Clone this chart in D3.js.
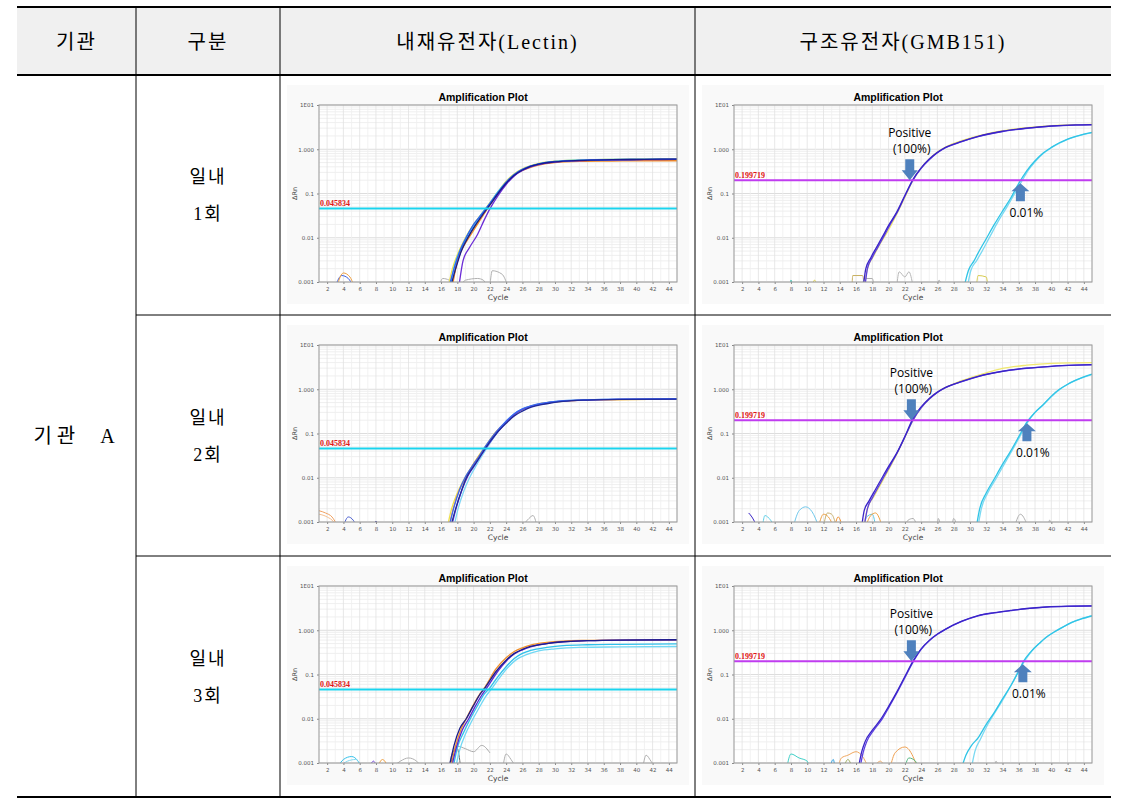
<!DOCTYPE html>
<html>
<head>
<meta charset="utf-8">
<script src="https://cdn.jsdelivr.net/npm/d3@7"></script>
<style>
body { margin: 0; background: #fff; }
svg { display: block; }
</style>
</head>
<body>
<svg></svg>
<script>
// table text
let headers = ['기관', '구분', '내재유전자(Lectin)', '구조유전자(GMB151)']
let orgLabel = '기관  A'
let runLabels = [['일내', '1회'], ['일내', '2회'], ['일내', '3회']]

// axis ticks of the amplification plots
let xTicks = [2, 4, 6, 8, 10, 12, 14, 16, 18, 20, 22, 24, 26, 28, 30, 32, 34, 36, 38, 40, 42, 44]
let yTicks = [0.001, 0.01, 0.1, 1, 10]
let yTickLabels = ['0.001', '0.01', '0.1', '1.000', '1E01']

let lectinThreshold = 0.045834
let gmbThreshold = 0.199719
let thresholdLabels = ['0.045834', '0.199719']

// cycles the arrows point at (GMB151 plots)
let positiveCt = [22.6, 22.8, 22.8]
let lowCt = [36.2, 37.0, 36.5]

// ---- Lectin, run 1 ----
let lectinRun1 = [
  [[16.9,0.0008],[17.4,0.002],[18.2,0.005],[19,0.01],[20,0.02],[21,0.035],[22,0.062],[23,0.11],[24,0.19],[25,0.28],[26,0.36],[28,0.48],[30,0.54],[33,0.57],[37,0.59],[45,0.61]],
  [[17.3,0.0008],[17.9,0.0025],[18.6,0.006],[19.4,0.011],[20.3,0.02],[21.2,0.034],[22,0.056],[23,0.1],[24,0.17],[25,0.26],[26,0.34],[28,0.46],[30,0.52],[33,0.55],[37,0.57],[45,0.58]],
  [[17.4,0.0008],[18,0.003],[18.8,0.0065],[19.7,0.012],[20.6,0.022],[21.5,0.04],[22.5,0.075],[23.5,0.13],[24.5,0.22],[25.5,0.3],[27,0.39],[28,0.44],[30,0.5],[33,0.53],[37,0.54],[41,0.55],[45,0.55]],
  [[17.1,0.0008],[17.7,0.0025],[18.5,0.006],[19.3,0.012],[20.2,0.021],[21,0.035],[22,0.06],[23,0.11],[24,0.18],[25,0.27],[26,0.35],[28,0.47],[30,0.53],[33,0.57],[37,0.59],[45,0.6]],
  [[18.2,0.0008],[18.7,0.003],[19.5,0.006],[20.5,0.012],[21.3,0.025],[22,0.045],[23,0.09],[24,0.16],[25,0.25],[26,0.33],[27,0.4],[28,0.45],[30,0.51],[33,0.55],[37,0.57],[41,0.58],[45,0.59]],
  [[17.0,0.0008],[17.6,0.002],[18.4,0.0055],[19.2,0.011],[20,0.02],[21,0.034],[22,0.06],[23,0.105],[24,0.18],[25,0.27],[26,0.35],[27,0.42],[28,0.47],[30,0.53],[33,0.56],[37,0.58],[41,0.59],[45,0.6]],
  [[17.2,0.0008],[17.8,0.002],[18.5,0.005],[19.3,0.01],[20.2,0.019],[21,0.031],[22,0.055],[23,0.1],[24,0.17],[25,0.26],[26,0.34],[27,0.41],[28,0.46],[30,0.52],[33,0.56],[37,0.58],[41,0.59],[45,0.6]]
]
let lectinColors1 = ['#efe04a', '#2aa37a', '#f08a24', '#38c8f0', '#6b2bd6', '#3060f0', '#1a1a8c']
let lectinNoise1 = [
  [[3,0.0008],[3.8,0.0014],[4.6,0.0012],[5.2,0.0008]],
  [[3.2,0.0008],[4,0.0016],[4.8,0.0013],[5.3,0.0008]],
  [[15.8,0.0008],[16.2,0.0012],[17,0.0011],[17.5,0.0008]],
  [[18.4,0.0008],[19,0.0011],[20.5,0.0012],[21.2,0.0011],[21.6,0.0008]],
  [[22,0.0008],[22.3,0.0018],[23.5,0.0015],[24.2,0.0008]]
]
let lectinNoiseColors1 = ['#3a5ee0', '#f0a040', '#b0b0b0', '#b0b0b0', '#b0b0b0']

// ---- Lectin, run 2 ----
let lectinRun2 = [
  [[16.8,0.0008],[17.3,0.002],[18,0.0045],[18.8,0.009],[19.7,0.017],[20.5,0.029],[21.3,0.047],[22.5,0.095],[24,0.18],[25,0.27],[26,0.35],[28,0.46],[30,0.52],[34,0.57],[45,0.6]],
  [[17,0.0008],[17.5,0.002],[18.2,0.005],[19,0.0095],[19.8,0.018],[20.6,0.03],[21.4,0.047],[22.6,0.1],[24,0.18],[26,0.35],[28,0.46],[30,0.52],[34,0.57],[45,0.6]],
  [[17.6,0.0008],[18.1,0.002],[18.8,0.005],[19.5,0.01],[20.4,0.02],[21.2,0.035],[22,0.06],[23,0.11],[24,0.19],[25,0.28],[26,0.36],[28,0.46],[30,0.53],[33,0.57],[38,0.59],[45,0.6]],
  [[17.3,0.0008],[17.9,0.0022],[18.6,0.0055],[19.3,0.011],[20.2,0.02],[21,0.034],[21.7,0.052],[23,0.11],[24,0.18],[25,0.27],[26,0.35],[28,0.45],[30,0.52],[33,0.56],[38,0.59],[45,0.6]],
  [[17.0,0.0008],[17.6,0.0022],[18.3,0.0055],[19,0.0105],[19.9,0.019],[20.7,0.031],[21.4,0.05],[22.7,0.105],[24,0.19],[25,0.28],[26,0.36],[27,0.42],[29,0.5],[31,0.55],[34,0.58],[38,0.6],[45,0.61]],
  [[17.2,0.0008],[17.8,0.002],[18.5,0.005],[19.1,0.0098],[20,0.018],[20.8,0.03],[21.5,0.048],[22.8,0.1],[24,0.17],[25,0.25],[26,0.32],[27,0.39],[29,0.47],[31,0.53],[34,0.57],[38,0.59],[45,0.6]]
]
let lectinColors2 = ['#efe04a', '#f0a050', '#7fd6f5', '#6a3ad8', '#3a66f0', '#1f2a9a']
let lectinNoise2 = [
  [[1,0.0018],[1.8,0.0016],[2.6,0.0013],[3.3,0.0008]],
  [[1,0.0015],[2,0.0013],[2.8,0.001],[3.1,0.0008]],
  [[4,0.0008],[4.6,0.0013],[5.2,0.0011],[5.6,0.0008]],
  [[7.9,0.0008],[8,0.00105],[8.1,0.0008]],
  [[26,0.0008],[26.8,0.0012],[27.3,0.0014],[27.8,0.0008]]
]
let lectinNoiseColors2 = ['#f0a060', '#f5c090', '#4a5ed0', '#1a1a8c', '#b0b0b0']

// ---- Lectin, run 3 ----
let lectinRun3 = [
  [[17.8,0.0008],[18.3,0.002],[19,0.0045],[19.8,0.009],[20.7,0.018],[21.5,0.032],[22.3,0.05],[23.3,0.09],[24.3,0.15],[25.3,0.22],[26.5,0.28],[28,0.34],[30,0.38],[33,0.41],[38,0.42],[45,0.43]],
  [[17.5,0.0008],[18,0.0022],[18.8,0.005],[19.6,0.01],[20.5,0.02],[21.3,0.036],[22,0.05],[23,0.09],[24,0.15],[25,0.23],[26,0.3],[27,0.35],[29,0.41],[31,0.45],[34,0.47],[38,0.48],[45,0.49]],
  [[17.2,0.0008],[17.8,0.0025],[18.5,0.006],[19.2,0.011],[20,0.021],[20.8,0.037],[21.4,0.052],[22.7,0.13],[24,0.24],[25,0.33],[26,0.4],[27,0.46],[29,0.53],[31,0.57],[34,0.59],[38,0.6],[45,0.61]],
  [[17.3,0.0008],[17.9,0.0023],[18.6,0.0055],[19.4,0.01],[20.2,0.019],[21,0.034],[21.6,0.049],[23,0.12],[24,0.2],[25,0.29],[26,0.36],[27,0.42],[29,0.5],[31,0.55],[34,0.58],[38,0.6],[45,0.61]],
  [[17.0,0.0008],[17.6,0.0025],[18.3,0.006],[19.1,0.01],[20,0.02],[20.8,0.036],[21.4,0.05],[22.8,0.12],[24,0.21],[25,0.3],[26,0.37],[27,0.43],[29,0.5],[31,0.55],[34,0.58],[38,0.6],[45,0.61]]
]
let lectinColors3 = ['#70d8f4', '#30c0ea', '#f0902a', '#5a2ad0', '#1d1d8a']
let lectinNoise3 = [
  [[3.3,0.0008],[4,0.0012],[5,0.0014],[5.8,0.0011],[6.2,0.0008]],
  [[3.5,0.0008],[4.5,0.0011],[5.5,0.0012],[6.3,0.0008]],
  [[4,0.0008],[4.1,0.001],[4.3,0.0008]],
  [[7.2,0.0008],[7.7,0.0011],[8.1,0.0008]],
  [[8.2,0.0008],[8.8,0.0012],[9.5,0.0008]],
  [[10,0.0008],[11,0.0011],[12,0.0013],[13,0.0011],[13.5,0.0008]],
  [[17,0.0008],[17.3,0.0015],[18,0.0024],[19,0.0021],[20,0.0018],[21,0.0025],[22,0.0017]],
  [[17.2,0.0008],[17.5,0.0018],[18,0.0021],[18.4,0.0008]],
  [[23.6,0.0008],[24,0.0016],[24.6,0.0012],[25.2,0.0008]],
  [[40.8,0.0008],[41.2,0.0015],[41.8,0.0011],[42.3,0.0008]]
]
let lectinNoiseColors3 = ['#30c0ea', '#80d8f0', '#1a1a8c', '#6a3ad8', '#f0a040', '#b0b0b0', '#a8a8a8', '#707070', '#b0b0b0', '#b0b0b0']

// ---- GMB151, run 1 ----
let gmbRun1 = [
  [[17,0.0008],[17.4,0.002],[18.2,0.004],[19,0.0075],[20,0.015],[21,0.034],[22,0.082],[23,0.2],[24,0.38],[25,0.6],[26,0.86],[27,1.12],[29,1.56],[31,2.0],[34,2.62],[37,3.08],[40,3.42],[43,3.6],[45,3.65]],
  [[29.7,0.0008],[30.1,0.0018],[30.8,0.003],[31.5,0.005],[32.5,0.011],[33.5,0.024],[34.5,0.048],[35.5,0.1],[36.3,0.18],[37.2,0.34],[38,0.52],[39,0.8],[40,1.08],[41,1.38],[42,1.68],[43,1.93],[44,2.18],[45,2.35]],
  [[29.3,0.0008],[29.8,0.0018],[30.5,0.003],[31,0.0045],[32,0.0095],[33,0.02],[34,0.04],[35,0.078],[36,0.17],[37,0.33],[38,0.55],[39,0.82],[40,1.1],[41,1.4],[42,1.7],[43,1.95],[44,2.2],[45,2.4]],
  [[17.1,0.0008],[17.4,0.002],[18,0.0036],[18.7,0.0062],[19.5,0.0115],[20.2,0.02],[21.2,0.042],[22.1,0.095],[23,0.2],[24,0.37],[25,0.58],[26,0.83],[27,1.08],[29,1.48],[31,1.92],[34,2.52],[37,2.98],[40,3.33],[43,3.52],[45,3.58]],
  [[16.9,0.0008],[17.2,0.002],[17.8,0.0035],[18.5,0.006],[19.3,0.011],[20,0.019],[21,0.038],[22,0.09],[23,0.21],[24,0.38],[25,0.6],[26,0.85],[27,1.1],[29,1.5],[31,1.95],[34,2.55],[37,3.0],[40,3.35],[43,3.55],[45,3.6]]
]
let gmbNoise1 = [
  [[7.9,0.0008],[8,0.0011],[8.2,0.0008]],
  [[10.6,0.0008],[10.9,0.0011],[11.2,0.0008]],
  [[15.5,0.0008],[15.6,0.0014],[16.8,0.0014],[17,0.0008]],
  [[16.8,0.0008],[17,0.0012],[18,0.0012],[18.2,0.0008]],
  [[21,0.0008],[21.3,0.0017],[22,0.0013],[22.5,0.0017],[23,0.0008]],
  [[26,0.0008],[26.2,0.0011],[26.5,0.0008]],
  [[30.8,0.0008],[31,0.0014],[32,0.0013],[32.2,0.0008]]
]
let gmbNoiseColors1 = ['#30c0b0', '#e0d040', '#c8b060', '#b0b0b0', '#b8b8b8', '#b0b0b0', '#d8cc50']

// ---- GMB151, run 2 ----
let gmbRun2 = [
  [[17,0.0008],[17.4,0.002],[18.2,0.0038],[19,0.007],[20,0.015],[21,0.034],[22,0.082],[23,0.2],[24,0.38],[25,0.6],[26,0.86],[28,1.33],[30,1.8],[32,2.35],[34,2.95],[37,3.5],[40,3.85],[43,3.95],[45,4.0]],
  [[31,0.0008],[31.4,0.002],[32.2,0.0046],[33.2,0.0095],[34.2,0.02],[35.2,0.042],[36.2,0.09],[37.1,0.18],[38,0.3],[39,0.44],[40,0.68],[41,0.98],[42,1.28],[43,1.58],[44,1.88],[45,2.15]],
  [[30.8,0.0008],[31.2,0.002],[32,0.0045],[33,0.0095],[34,0.02],[35,0.04],[36,0.085],[37,0.18],[38,0.3],[39,0.45],[40,0.7],[41,1.0],[42,1.3],[43,1.6],[44,1.9],[45,2.2]],
  [[17,0.0008],[17.4,0.002],[18,0.0035],[18.8,0.0065],[19.6,0.012],[20.4,0.022],[21.3,0.045],[22.2,0.1],[23,0.2],[24,0.38],[25,0.6],[26,0.85],[27,1.08],[29,1.48],[31,1.93],[34,2.53],[37,2.98],[40,3.3],[43,3.5],[45,3.58]],
  [[16.7,0.0008],[17,0.0018],[17.6,0.003],[18.4,0.0055],[19.2,0.01],[20,0.018],[21,0.036],[22,0.085],[23,0.22],[24,0.4],[25,0.62],[26,0.86],[27,1.1],[29,1.5],[31,1.95],[34,2.55],[37,3.0],[40,3.3],[43,3.5],[45,3.6]]
]
let gmbNoise2 = [
  [[2.8,0.0016],[3.2,0.0013],[3.8,0.0008]],
  [[4.5,0.0008],[4.8,0.0014],[5.5,0.0011],[6,0.0008]],
  [[8.3,0.0008],[9,0.0018],[9.8,0.0022],[10.6,0.0017],[11.4,0.0008]],
  [[11.4,0.0008],[12,0.0015],[12.6,0.0013],[13.2,0.0008]],
  [[12,0.0008],[12.5,0.0016],[13,0.0015],[13.5,0.0009]],
  [[13.4,0.0008],[13.8,0.0013],[14.3,0.0008]],
  [[17,0.0008],[17.3,0.0013],[18,0.0015],[18.4,0.0008]],
  [[17.2,0.0008],[17.8,0.0014],[18.4,0.0016],[19.2,0.0008]],
  [[22,0.0008],[22.4,0.0011],[23,0.0012],[23.5,0.0008]],
  [[26,0.0008],[26.1,0.0012],[26.4,0.0008]],
  [[27.8,0.0008],[28,0.0012],[28.4,0.0008]],
  [[35.5,0.0008],[36.2,0.0015],[37,0.0009]],
  [[39.6,0.0008],[39.8,0.0011],[40,0.0008]]
]
let gmbNoiseColors2 = ['#3a24c8', '#60d0e8', '#70c8ec', '#f0a040', '#c8b070', '#f09030', '#60c8e8', '#f0a040', '#b0b0b0', '#b0b0b0', '#b0b0b0', '#b0b0b0', '#b0b0b0']

// ---- GMB151, run 3 ----
let gmbRun3 = [
  [[30.2,0.0008],[30.6,0.0018],[31.3,0.0035],[32.2,0.0075],[33.1,0.014],[34,0.026],[35,0.055],[36,0.12],[36.7,0.2],[37.6,0.34],[38.6,0.52],[39.5,0.72],[40.5,0.95],[41.5,1.2],[42.7,1.55],[43.8,1.85],[45,2.15]],
  [[29,0.0008],[29.5,0.0015],[30.2,0.0025],[31,0.0037],[32,0.0075],[33,0.014],[34,0.028],[35,0.055],[36,0.12],[36.6,0.2],[37.5,0.33],[38.5,0.5],[39.3,0.68],[40.3,0.9],[41.3,1.15],[42.5,1.5],[43.7,1.8],[45,2.1]],
  [[16.5,0.0008],[16.9,0.0018],[17.3,0.003],[18.2,0.0056],[19.2,0.0098],[20.1,0.019],[21.1,0.041],[22.1,0.092],[23,0.19],[24,0.37],[25,0.58],[26,0.81],[27,1.05],[29,1.58],[31,2.12],[33,2.48],[35,2.78],[37,3.08],[39.3,3.33],[42,3.48],[45,3.53]],
  [[16.3,0.0008],[16.7,0.0018],[17.1,0.003],[18,0.0055],[19,0.0095],[20,0.019],[21,0.04],[22,0.09],[23,0.2],[24,0.38],[25,0.59],[26,0.82],[27,1.06],[29,1.6],[31,2.15],[33,2.5],[35,2.8],[37,3.1],[39.3,3.35],[42,3.5],[45,3.55]]
]
let gmbNoise3 = [
  [[7.5,0.0008],[8,0.0016],[9,0.0013],[10,0.0011],[10.2,0.0008]],
  [[12.8,0.0008],[13.2,0.0012],[13.4,0.0008]],
  [[13.8,0.0008],[14.2,0.0013],[15,0.0015],[16,0.0018],[16.8,0.0014],[17.5,0.0008]],
  [[14.5,0.0008],[15,0.0012],[15.5,0.0008]],
  [[18.2,0.0008],[19,0.0011],[19.5,0.0008]],
  [[20.2,0.0008],[20.8,0.0017],[22,0.0023],[23,0.0014],[23.5,0.0008]],
  [[22,0.0008],[22.5,0.0013],[23.3,0.0011],[23.6,0.0008]],
  [[33,0.0008],[33.2,0.0011],[33.5,0.0008]]
]
let gmbNoiseColors3 = ['#40d0c8', '#30a0e0', '#f0a860', '#a0b060', '#f0a860', '#f0a050', '#50b880', '#b0b0b0']

let gmbColors = ['#f0e870', '#7ad9f2', '#2fc4e6', '#5b3fe0', '#3a24c8']
let gmbColors3 = ['#7ad9f2', '#2fc4e6', '#5b3fe0', '#3a24c8']

// ---------------------------------------------------------------
let width = 1134
let height = 808
let svg = d3.select('svg').attr('width', width).attr('height', height)

let tableLeft = 17
let tableRight = 1111
let tableTop = 7
let headBottom = 75
let rowTops = [75, 315, 556]
let tableBottom = 797
let colLines = [136, 280, 695]

let hangul = '"Liberation Serif", "Noto Sans CJK KR", serif'

let drawTable = () => {
    svg.append('rect')
       .attr('x', tableLeft).attr('y', tableTop)
       .attr('width', tableRight - tableLeft).attr('height', headBottom - tableTop)
       .attr('fill', '#f0f0f0')

    colLines.forEach(cx => {
        svg.append('line').attr('x1', cx).attr('x2', cx).attr('y1', tableTop).attr('y2', tableBottom)
           .attr('stroke', '#000').attr('stroke-width', 1)
    })
    rowTops.slice(1).forEach(ry => {
        svg.append('line').attr('x1', colLines[0]).attr('x2', tableRight).attr('y1', ry).attr('y2', ry)
           .attr('stroke', '#000').attr('stroke-width', 1)
    })
    ;[tableTop, headBottom, tableBottom].forEach(ry => {
        svg.append('line').attr('x1', tableLeft).attr('x2', tableRight).attr('y1', ry).attr('y2', ry)
           .attr('stroke', '#000').attr('stroke-width', 2)
    })

    let edges = [tableLeft].concat(colLines).concat([tableRight])
    headers.forEach((t, i) => {
        svg.append('text')
           .attr('x', (edges[i] + edges[i + 1]) / 2)
           .attr('y', (tableTop + headBottom) / 2 + 1)
           .attr('text-anchor', 'middle')
           .attr('dominant-baseline', 'central')
           .style('font-family', hangul)
           .style('font-size', '20px')
           .style('letter-spacing', '2px')
           .text(t)
    })

    svg.append('text')
       .attr('x', (tableLeft + colLines[0]) / 2)
       .attr('y', (headBottom + tableBottom) / 2)
       .attr('text-anchor', 'middle')
       .attr('dominant-baseline', 'central')
       .style('font-family', hangul)
       .style('font-size', '20px')
       .style('letter-spacing', '5px')
       .style('white-space', 'pre')
       .text(orgLabel)

    runLabels.forEach((lines, i) => {
        let mid = (rowTops[i] + (rowTops[i + 1] || tableBottom)) / 2
        lines.forEach((t, j) => {
            svg.append('text')
               .attr('x', (colLines[0] + colLines[1]) / 2)
               .attr('y', mid - 18 + j * 37)
               .attr('text-anchor', 'middle')
               .attr('dominant-baseline', 'central')
               .style('font-family', hangul)
               .style('font-size', '18px')
               .style('letter-spacing', '2px')
               .text(t)
        })
    })
}

let plotW = 358
let plotH = 177
let plotCount = 0

let drawPlot = (left, top, series, colors, noise, noiseColors, thr, thrColor, thrText) => {
    plotCount++
    let g = svg.append('g')
    let x = d3.scaleLinear().domain([1, 45]).range([left, left + plotW])
    let y = d3.scaleLog().domain([0.001, 10]).range([top + plotH, top])

    g.append('rect')
     .attr('x', left - 32).attr('y', top - 20)
     .attr('width', plotW + 44).attr('height', plotH + 42)
     .attr('fill', '#f9f9f9')
    g.append('rect')
     .attr('x', left).attr('y', top).attr('width', plotW).attr('height', plotH)
     .attr('fill', '#fff')

    // grid
    g.append('g').selectAll('line')
     .data(y.ticks())
     .enter().append('line')
     .attr('x1', left).attr('x2', left + plotW)
     .attr('y1', d => y(d)).attr('y2', d => y(d))
     .attr('stroke', d => yTicks.includes(d) ? '#d4d4d4' : '#ebebeb')
     .attr('stroke-width', 0.8)
    g.append('g').selectAll('line')
     .data(x.ticks(44))
     .enter().append('line')
     .attr('x1', d => x(d)).attr('x2', d => x(d))
     .attr('y1', top).attr('y2', top + plotH)
     .attr('stroke', d => d % 2 === 0 ? '#e2e2e2' : '#efefef')
     .attr('stroke-width', 0.8)

    // axes
    let yAxis = d3.axisLeft(y).tickValues(yTicks).tickFormat((d, i) => yTickLabels[i]).tickSize(2).tickPadding(3)
    let ya = g.append('g').attr('transform', 'translate(' + left + ',0)').call(yAxis)
    let xAxis = d3.axisBottom(x).tickValues(xTicks).tickSize(2).tickPadding(3)
    let xa = g.append('g').attr('transform', 'translate(0,' + (top + plotH) + ')').call(xAxis)
    ;[ya, xa].forEach(a => {
        a.select('.domain').remove()
        a.selectAll('line').attr('stroke', '#888')
        a.selectAll('text').attr('fill', '#555').style('font-size', '5.5px').style('font-family', 'DejaVu Sans')
    })

    g.append('text')
     .attr('x', left + plotW / 2).attr('y', top + plotH + 18)
     .attr('text-anchor', 'middle')
     .style('font-family', 'DejaVu Sans').style('font-size', '7.5px').attr('fill', '#444')
     .text('Cycle')
    g.append('text')
     .attr('transform', 'translate(' + (left - 22) + ',' + (top + plotH / 2) + ') rotate(-90)')
     .attr('text-anchor', 'middle')
     .style('font-family', 'DejaVu Sans').style('font-size', '6.5px').attr('fill', '#444')
     .text('ΔRn')
    g.append('text')
     .attr('x', left + plotW / 2 - 15).attr('y', top - 4)
     .attr('text-anchor', 'middle')
     .style('font-family', 'Liberation Sans').style('font-weight', 'bold').style('font-size', '10.5px')
     .text('Amplification Plot')

    // curves
    let clipId = 'clip' + plotCount
    g.append('clipPath').attr('id', clipId)
     .append('rect').attr('x', left).attr('y', top).attr('width', plotW).attr('height', plotH)
    let line = d3.line().x(d => x(d[0])).y(d => y(d[1])).curve(d3.curveMonotoneX)
    let cg = g.append('g').attr('clip-path', 'url(#' + clipId + ')')
    cg.selectAll('path.noise')
      .data(noise)
      .enter().append('path')
      .attr('class', 'noise')
      .attr('d', line)
      .attr('fill', 'none')
      .attr('stroke', (d, i) => noiseColors[i])
      .attr('stroke-width', 1)
    cg.selectAll('path.amp')
      .data(series)
      .enter().append('path')
      .attr('class', 'amp')
      .attr('d', line)
      .attr('fill', 'none')
      .attr('stroke', (d, i) => colors[i])
      .attr('stroke-width', 1.3)

    // threshold
    g.append('line')
     .attr('x1', left).attr('x2', left + plotW)
     .attr('y1', y(thr)).attr('y2', y(thr))
     .attr('stroke', thrColor).attr('stroke-width', 2)
    g.append('text')
     .attr('x', left + 1).attr('y', y(thr) - 2)
     .style('font-family', 'Liberation Serif').style('font-size', '8px').style('font-weight', 'bold')
     .attr('fill', '#e01515')
     .text(thrText)

    g.append('rect')
     .attr('x', left).attr('y', top).attr('width', plotW).attr('height', plotH)
     .attr('fill', 'none').attr('stroke', '#9a9a9a').attr('stroke-width', 1)

    return {x: x, y: y, g: g}
}

let arrowColor = '#4f81bd'
let noteFont = '"Open Sans", "Noto Sans", sans-serif'

let drawNotes = (p, thr, posCt, lowCtValue) => {
    let ty = p.y(thr)
    let xd = p.x(posCt)
    // down arrow above the positive crossing
    p.g.append('path')
     .attr('d', 'M' + (xd - 4.5) + ',' + (ty - 21) + 'H' + (xd + 4.5) + 'V' + (ty - 10) + 'H' + (xd + 8) +
                'L' + xd + ',' + ty + 'L' + (xd - 8) + ',' + (ty - 10) + 'H' + (xd - 4.5) + 'Z')
     .attr('fill', arrowColor)
    p.g.append('text').attr('x', xd).attr('y', ty - 43)
     .attr('text-anchor', 'middle').style('font-family', noteFont).style('font-size', '12px')
     .text('Positive')
    p.g.append('text').attr('x', xd + 2).attr('y', ty - 27)
     .attr('text-anchor', 'middle').style('font-family', noteFont).style('font-size', '12px')
     .text('(100%)')

    // up arrow below the 0.01% crossing
    let xu = p.x(lowCtValue)
    let tip = ty + 3
    p.g.append('path')
     .attr('d', 'M' + xu + ',' + tip + 'L' + (xu + 9) + ',' + (tip + 8) + 'H' + (xu + 4.5) + 'V' + (tip + 18) +
                'H' + (xu - 4.5) + 'V' + (tip + 8) + 'H' + (xu - 9) + 'Z')
     .attr('fill', arrowColor)
    p.g.append('text').attr('x', xu + 6).attr('y', tip + 34)
     .attr('text-anchor', 'middle').style('font-family', noteFont).style('font-size', '12px')
     .text('0.01%')
}

drawTable()

let leftX = colLines[1] + 39
let rightX = colLines[2] + 39
let lectinSets = [
    [lectinRun1, lectinColors1, lectinNoise1, lectinNoiseColors1],
    [lectinRun2, lectinColors2, lectinNoise2, lectinNoiseColors2],
    [lectinRun3, lectinColors3, lectinNoise3, lectinNoiseColors3]
]
let gmbSets = [
    [gmbRun1, gmbColors, gmbNoise1, gmbNoiseColors1],
    [gmbRun2, gmbColors, gmbNoise2, gmbNoiseColors2],
    [gmbRun3, gmbColors3, gmbNoise3, gmbNoiseColors3]
]

rowTops.forEach((rt, i) => {
    let top = rt + 30
    let s = lectinSets[i]
    drawPlot(leftX, top, s[0], s[1], s[2], s[3], lectinThreshold, '#1ad4ee', thresholdLabels[0])
    let r = gmbSets[i]
    let p = drawPlot(rightX, top, r[0], r[1], r[2], r[3], gmbThreshold, '#c03cf0', thresholdLabels[1])
    drawNotes(p, gmbThreshold, positiveCt[i], lowCt[i])
})
</script>
</body>
</html>
